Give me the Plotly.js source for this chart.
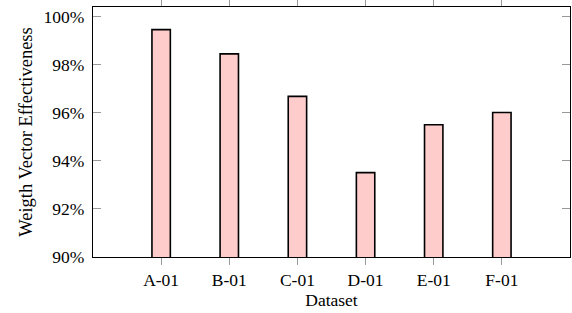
<!DOCTYPE html>
<html><head><meta charset="utf-8">
<script src="https://cdn.plot.ly/plotly-3.0.1.min.js"></script>
<style>body{margin:0;padding:0;background:#fff}#c{width:572px;height:313px}</style>
</head><body><div id="c"></div>
<script>
var categories = ["A-01","B-01","C-01","D-01","E-01","F-01"];
var effectiveness = [99.46, 98.45, 96.68, 93.51, 95.5, 96.01];
var yTickVals = [90, 92, 94, 96, 98, 100];
var yTickText = ["90%","92%","94%","96%","98%","100%"];

var font = {family: "Liberation Serif, Times New Roman, serif", color: "#000", size: 17.5};
var titleFont = {family: "Liberation Serif, Times New Roman, serif", color: "#000", size: 17.5};
var yTitleFont = {family: "Liberation Serif, Times New Roman, serif", color: "#000", size: 18.5};
var trace = {
  type: "bar",
  x: categories.map(function(_, i){return i;}),
  y: effectiveness,
  width: 0.27,
  marker: {color: "#ffcccc", line: {color: "#000", width: 1.6}},
  hoverinfo: "none"
};
var layout = {
  width: 572, height: 313,
  margin: {l: 93, r: 2, t: 7, b: 56},
  paper_bgcolor: "#fff", plot_bgcolor: "#fff",
  showlegend: false,
  font: font,
  bargap: 0,
  xaxis: {
    range: [-1, 6],
    tickvals: categories.map(function(_, i){return i;}),
    ticktext: categories,
    ticks: "outside", ticklen: 7, tickcolor: "#999", tickwidth: 1,
    showgrid: false, zeroline: false,
    showline: true, linecolor: "#000", linewidth: 1.2, mirror: "allticks",
    tickfont: font,
    title: {text: "Dataset", font: titleFont, standoff: 0}
  },
  yaxis: {
    range: [90, 100.4],
    tickvals: yTickVals, ticktext: yTickText,
    ticks: "inside", ticklen: 8, tickcolor: "#999", tickwidth: 1,
    showgrid: false, zeroline: false,
    showline: true, linecolor: "#000", linewidth: 1.2, mirror: "allticks",
    tickfont: font, ticklabelstandoff: 4,
    title: {text: "Weigth Vector Effectiveness", font: yTitleFont, standoff: 6}
  }
};
Plotly.newPlot("c", [trace], layout, {staticPlot: true, displayModeBar: false});
</script></body></html>
